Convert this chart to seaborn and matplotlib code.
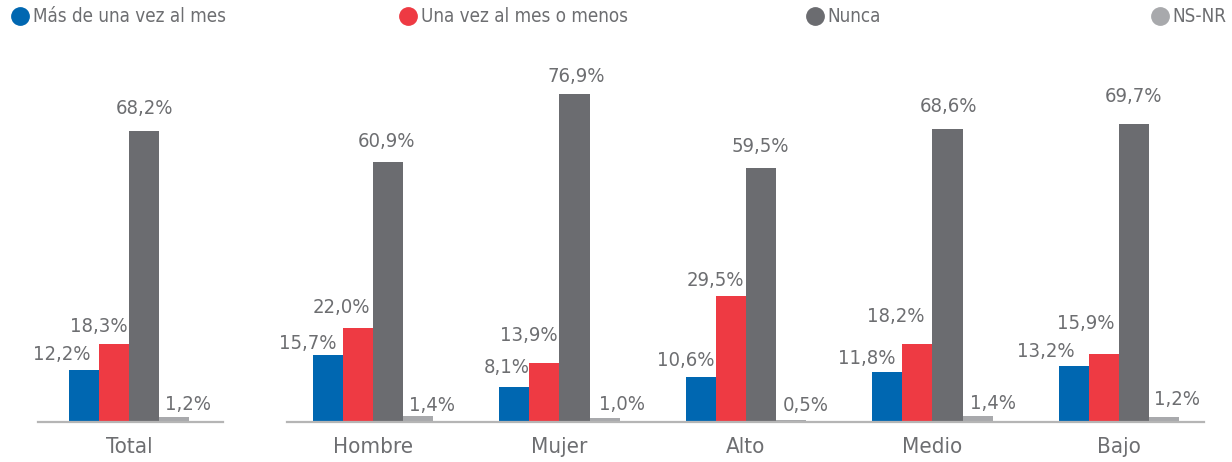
import matplotlib
matplotlib.use("Agg")
import matplotlib.pyplot as plt
from matplotlib.lines import Line2D
import seaborn as sns
import pandas as pd

# --- data -------------------------------------------------------------
grupos = ["Total", "Hombre", "Mujer", "Alto", "Medio", "Bajo"]
respuestas = ["Más de una vez al mes", "Una vez al mes o menos", "Nunca", "NS-NR"]
mas_de_una_vez = [12.2, 15.7, 8.1, 10.6, 11.8, 13.2]
una_vez_o_menos = [18.3, 22.0, 13.9, 29.5, 18.2, 15.9]
nunca = [68.2, 60.9, 76.9, 59.5, 68.6, 69.7]
ns_nr = [1.2, 1.4, 1.0, 0.5, 1.4, 1.2]

colores = ["#0067b1", "#ee3a43", "#6b6c70", "#a8a9ac"]
texto = "#6d6e71"

series = [mas_de_una_vez, una_vez_o_menos, nunca, ns_nr]
df = pd.DataFrame(
    [(g, r, v[i]) for r, v in zip(respuestas, series) for i, g in enumerate(grupos)],
    columns=["grupo", "respuesta", "valor"],
)

# label placement (pixels): horizontal shift and lift above the bar top,
# one row per answer, one column per group
label_dx = [
    [-22, -20, -8, -15, -21, -28],
    [-15, -17, -16, -16, -22, -18],
    [0, -2, 2, -1, 1, 0],
    [14, 14, 17, 15, 15, 13],
]
label_dy = [
    [10, 6, 14, 11, 8, 9],
    [12, 15, 22, 10, 22, 25],
    [17, 15, 12, 16, 17, 22],
    [7, 5, 8, 9, 7, 12],
]

sns.set_theme(style="white")
plt.rcParams["font.family"] = ["DejaVu Sans"]
plt.rcParams["font.stretch"] = "condensed"

fig = plt.figure(figsize=(12.32, 4.62), dpi=100)
W, H = 1232, 462
base_y = 422
px_per_unit = 4.27
ymax = 80
bottom = (H - base_y) / H
height = ymax * px_per_unit / H

ax_total = fig.add_axes([38 / W, bottom, 185 / W, height])
ax_rest = fig.add_axes([287 / W, bottom, 917 / W, height])

for ax, cols, xlim in [
    (ax_total, [0], (-0.488, 0.504)),
    (ax_rest, [1, 2, 3, 4, 5], (-0.461, 4.456)),
]:
    sub = df[df.grupo.isin([grupos[c] for c in cols])]
    sns.barplot(
        data=sub, x="grupo", y="valor", hue="respuesta",
        order=[grupos[c] for c in cols],
        hue_order=respuestas, palette=colores, width=0.645,
        saturation=1, legend=False, ax=ax, errorbar=None, linewidth=0,
    )
    ax.set_xlim(*xlim)
    ax.set_ylim(0, ymax)
    ax.set_xlabel("")
    ax.set_ylabel("")
    ax.set_yticks([])
    for s in ["top", "left", "right"]:
        ax.spines[s].set_visible(False)
    ax.spines["bottom"].set_color("#b5b5b5")
    ax.spines["bottom"].set_linewidth(1.6)
    ax.tick_params(axis="x", length=0, pad=11, labelsize=16, labelcolor=texto)
    for k, cont in enumerate(ax.containers):
        for bar, c in zip(cont.patches, cols):
            v = bar.get_height()
            ax.annotate(
                f"{v:.1f}%".replace(".", ","),
                (bar.get_x() + bar.get_width() / 2, v),
                xytext=(label_dx[k][c], label_dy[k][c]), textcoords="offset pixels",
                ha="center", va="baseline", fontsize=14.5, color=texto,
            )

# legend entries spread across the top
legend_x = [11 / W, 399 / W, 806 / W, 1151 / W]
for lbl, col, lx in zip(respuestas, colores, legend_x):
    h = Line2D([], [], marker="o", linestyle="none", markersize=12.5,
               markerfacecolor=col, markeredgecolor=col)
    fig.legend(handles=[h], labels=[lbl], loc="center left",
               bbox_to_anchor=(lx, 1 - 17 / H), frameon=False,
               fontsize=13.5, labelcolor=texto, handletextpad=0.15,
               borderpad=0, borderaxespad=0, handlelength=1.0)

fig.savefig("out.png", dpi=100)
